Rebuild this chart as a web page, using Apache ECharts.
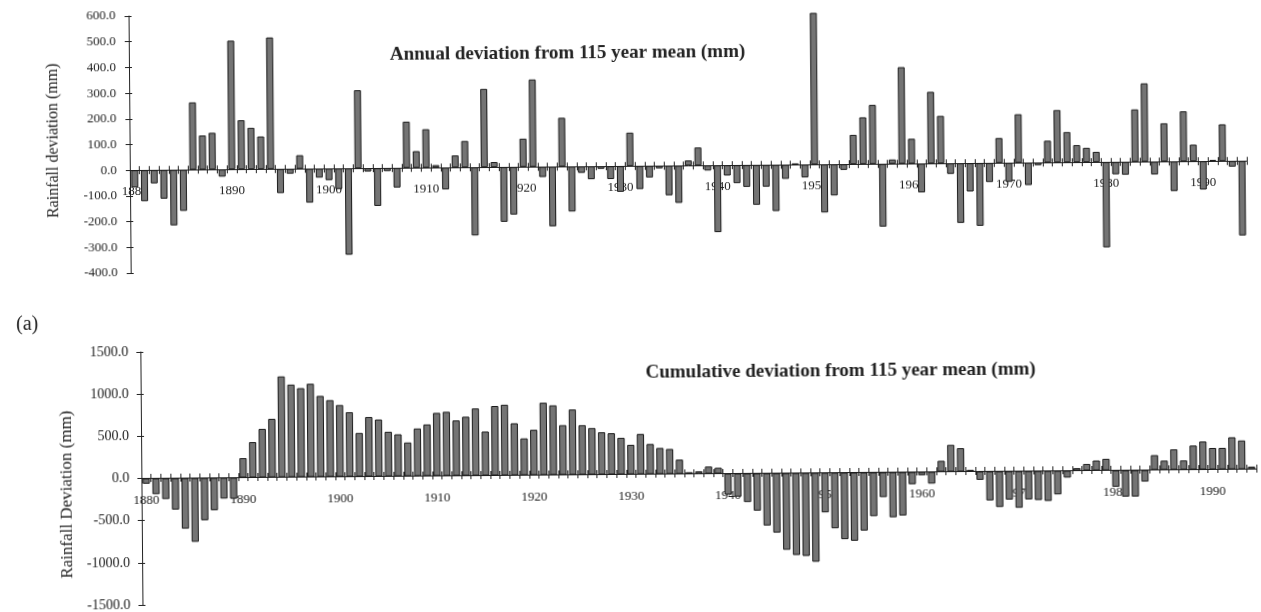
<!DOCTYPE html>
<html><head><meta charset="utf-8">
<script src="https://cdn.jsdelivr.net/npm/echarts@6/dist/echarts.min.js"></script>
<style>
html,body{margin:0;padding:0;background:#fff;overflow:hidden}
#c{width:1261px;height:612px;transform:rotate(-0.48deg);transform-origin:135px 310px}
</style>
</head><body><div id="c"></div>
<script>
const firstYear = 1880, lastYear = 1994;
const years = [];
for (let y = firstYear; y <= lastYear; y++) years.push(String(y));

// Annual deviation from 115 year mean (mm), 1880-1994
const annual = [
 -67,-121,-52,-112,-216,-160,262,133,143,-28,
 501,191,161,127,512,-94,-19,53,-132,-35,
 -45,-80,-336,304,-13,-147,-12,-76,180,65,
 150,10,-85,47,103,-265,305,20,-213,-185,
 110,340,-40,-232,190,-175,-25,-50,-10,-50,
 -100,130,-90,-45,-10,-115,-145,20,70,-20,
 -260,-40,-70,-85,-155,-85,-180,-55,5,-50,
 590,-187,-121,-22,114,182,230,-244,17,376,
 97,-112,279,185,-41,-232,-110,-244,-74,97,
 -74,189,-87,-10,85,204,118,67,56,40,
 -332,-48,-50,204,305,-50,149,-115,195,65,
 -110,5,143,-22,-290
];

// Cumulative deviation from 115 year mean (mm), 1880-1994
const cumulative = [
 -63,-188,-247,-373,-600,-757,-502,-384,-247,-250,
 231,420,576,694,1196,1098,1055,1106,961,910,
 851,765,518,706,675,529,498,400,565,612,
 748,760,657,700,797,522,824,838,617,437,
 538,858,826,590,775,588,553,502,490,434,
 350,478,358,310,297,170,20,30,85,70,
 -250,-275,-340,-443,-620,-706,-910,-973,-985,-1055,
 -470,-660,-790,-810,-690,-520,-295,-535,-515,-145,
 -40,-140,130,318,278,20,-100,-345,-424,-337,
 -435,-337,-345,-357,-280,-82,30,78,118,137,
 -196,-314,-314,-137,176,110,243,110,286,333,
 255,255,380,341,30
];

const topTicks = {min: -400, max: 600, interval: 100};
const botTicks = {min: -1500, max: 1500, interval: 500};

const serif = "'Liberation Serif', 'Times New Roman', serif";
const axisColor = '#222';
const barStyle = {color: '#747474', borderColor: '#1a1a1a', borderWidth: 1};

const topGrid = {left: 131, top: 16, width: 1117, height: 257};
const botGrid = {left: 140, top: 352, width: 1115, height: 254};

// distance (px) from the grid bottom up to the zero line
function zeroLift(g, t) { return g.height * (0 - t.min) / (t.max - t.min); }

function xAxes(gridIndex, lift, labelMargin) {
  return [{
    type: 'category', gridIndex, data: years, boundaryGap: true, position: 'bottom', offset: -lift,
    axisLine: {onZero: false, lineStyle: {color: axisColor, width: 1}},
    axisTick: {show: true, interval: 0, length: 4, lineStyle: {color: axisColor}},
    axisLabel: {interval: (i) => i % 10 === 0, margin: labelMargin, fontFamily: serif, fontSize: 13, color: '#222'},
    splitLine: {show: false}
  }, {
    type: 'category', gridIndex, data: years, boundaryGap: true, position: 'bottom', offset: -lift,
    axisLine: {show: false, onZero: false},
    axisTick: {show: true, inside: true, interval: 0, length: 4, lineStyle: {color: axisColor}},
    axisLabel: {show: false}, splitLine: {show: false}
  }];
}
function yAxes(gridIndex, t, labelMargin, fs) {
  return [{
    type: 'value', gridIndex, min: t.min, max: t.max, interval: t.interval,
    axisLine: {show: true, lineStyle: {color: axisColor, width: 1}},
    axisTick: {show: true, length: 4, lineStyle: {color: axisColor}},
    axisLabel: {margin: labelMargin, fontFamily: serif, fontSize: fs, color: '#222', formatter: v => v.toFixed(1)},
    splitLine: {show: false}
  }, {
    type: 'value', gridIndex, min: t.min, max: t.max, interval: t.interval, position: 'left',
    axisLine: {show: false},
    axisTick: {show: true, inside: true, length: 3, lineStyle: {color: axisColor}},
    axisLabel: {show: false}, splitLine: {show: false}
  }];
}

const chart = echarts.init(document.getElementById('c'), null, {renderer: 'canvas'});
chart.setOption({
  backgroundColor: '#fff',
  animation: false,
  title: [
    {text: 'Annual deviation from 115 year mean (mm)', left: 387, top: 43,
     textStyle: {fontFamily: serif, fontSize: 19, fontWeight: 'bold', color: '#222'}},
    {text: 'Cumulative deviation from 115 year mean (mm)', left: 640, top: 363,
     textStyle: {fontFamily: serif, fontSize: 19, fontWeight: 'bold', color: '#222'}},
    {text: '(a)', left: 11, top: 309, textStyle: {fontFamily: serif, fontSize: 20, fontWeight: 'normal', color: '#222'}}
  ],
  graphic: [
    {type: 'text', x: 55, y: 140, rotation: Math.PI / 2, style: {text: 'Rainfall deviation (mm)', font: "16px 'Liberation Serif'", fill: '#222', align: 'center', verticalAlign: 'middle'}},
    {type: 'text', x: 66, y: 494, rotation: Math.PI / 2, style: {text: 'Rainfall Deviation (mm)', font: "17px 'Liberation Serif'", fill: '#222', align: 'center', verticalAlign: 'middle'}}
  ],
  grid: [topGrid, botGrid],
  xAxis: [].concat(xAxes(0, zeroLift(topGrid, topTicks), 15), xAxes(1, zeroLift(botGrid, botTicks), 16)),
  yAxis: [].concat(yAxes(0, topTicks, 13, 13), yAxes(1, botTicks, 12, 14)),
  series: [
    {type: 'bar', xAxisIndex: 0, yAxisIndex: 0, data: annual, barCategoryGap: '28%', itemStyle: barStyle, z: 3},
    {type: 'bar', xAxisIndex: 2, yAxisIndex: 2, data: cumulative, barCategoryGap: '25%', itemStyle: barStyle, z: 3}
  ]
});
</script></body></html>
